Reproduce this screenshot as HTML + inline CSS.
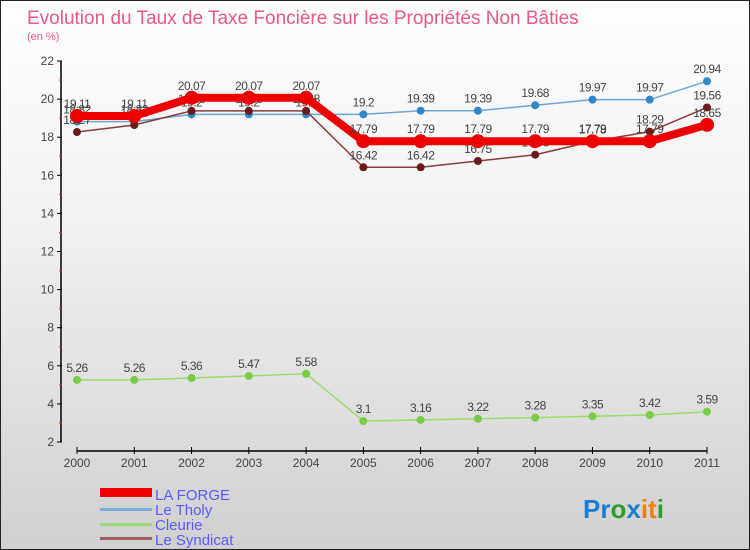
<!DOCTYPE html>
<html><head><meta charset="utf-8"><style>
body{margin:0}
#c{position:relative;width:748px;height:548px;border:1px solid #222;background:linear-gradient(#fefefe,#f2f2f2 40%,#d0d0d0);font-family:"Liberation Sans",sans-serif;overflow:hidden}
</style></head><body>
<div id="c">
<svg id="s" width="748" height="548" style="position:absolute;left:0;top:0">
<text x="26" y="23" font-size="19" fill="#e8588a">Evolution du Taux de Taxe Foncière sur les Propriétés Non Bâties</text>
<text x="26" y="39" font-size="11" fill="#e8588a">(en %)</text>
<g id="axes"></g><g id="series"></g>
<g>
<rect x="99" y="487" width="52" height="9" fill="#e00"/>
<text x="154" y="499" font-size="15" fill="#5a5aff">LA FORGE</text>
<rect x="99" y="507" width="52" height="3" fill="#7aaed8"/>
<text x="154" y="514" font-size="15" fill="#5a5aff">Le Tholy</text>
<rect x="99" y="522" width="52" height="3" fill="#99dd77"/>
<text x="154" y="529" font-size="15" fill="#5a5aff">Cleurie</text>
<rect x="99" y="536" width="52" height="3" fill="#a06060"/>
<text x="154" y="544" font-size="15" fill="#5a5aff">Le Syndicat</text>
</g>
<text x="582" y="517" font-size="26" font-weight="bold"><tspan fill="#1a7fd4">Pr</tspan><tspan fill="#2aa02a">o</tspan><tspan fill="#1a7fd4">x</tspan><tspan fill="#f08010">it</tspan><tspan fill="#2aa02a">i</tspan></text>
</svg>
</div>
<script>
const years=["2000","2001","2002","2003","2004","2005","2006","2007","2008","2009","2010","2011"];
const yTicks=[2,4,6,8,10,12,14,16,18,20,22];
const laForge=[19.11,19.11,20.07,20.07,20.07,17.79,17.79,17.79,17.79,17.79,17.79,18.65];
const leTholy=[18.82,18.82,19.2,19.2,19.2,19.2,19.39,19.39,19.68,19.97,19.97,20.94];
const cleurie=[5.26,5.26,5.36,5.47,5.58,3.1,3.16,3.22,3.28,3.35,3.42,3.59];
const leSyndicat=[18.27,18.64,19.38,19.38,19.38,16.42,16.42,16.75,17.08,17.78,18.29,19.56];
const NS="http://www.w3.org/2000/svg";
const X=i=>76+i*(630/(years.length-1));
const Y=v=>441-(v-2)*(381/20);
function mk(t,a,p){const e=document.createElementNS(NS,t);for(const k in a)e.setAttribute(k,a[k]);p.appendChild(e);return e;}
const ax=document.getElementById('axes');
let l=mk('line',{x1:60,y1:60,x2:60,y2:441,stroke:'#000','stroke-width':1.5},ax);


yTicks.forEach(v=>{
 const t=mk('line',{x1:56,x2:61,y1:Y(v),y2:Y(v),stroke:'#000'},ax);
 
 
 const m=mk('line',{x1:58,x2:61,y1:Y(v+1),y2:Y(v+1),stroke:'#c33'},ax);
 if(v===22)m.remove();
 const tx=mk('text',{x:53,y:Y(v)+4,'font-size':12,fill:'#444','text-anchor':'end'},ax);
 tx.textContent=v;
 
 
});
l=mk('line',{x1:76,y1:450,x2:706,y2:450,stroke:'#000','stroke-width':1.5},ax);


years.forEach((y,i)=>{
 const t=mk('line',{x1:X(i),x2:X(i),y1:446,y2:453,stroke:'#000'},ax);
 
 
 const tx=mk('text',{x:X(i),y:466,'font-size':12,fill:'#444','text-anchor':'middle'},ax);
 tx.textContent=y;
 
 
});
const sg=document.getElementById('series');
function series(name,data,color,w,r,dot){
 const g=mk('g',{},sg);
 
 
 const p=mk('polyline',{points:data.map((v,i)=>X(i)+','+Y(v)).join(' '),fill:'none',stroke:color,'stroke-width':w},g);
 
 
 data.forEach((v,i)=>{
  const c=mk('circle',{cx:X(i),cy:Y(v),r:r,fill:dot},g);
  
  
  const t=mk('text',{x:X(i),y:Y(v)-8,'font-size':12,fill:'#444','text-anchor':'middle','letter-spacing':'-0.5'},g);
  t.textContent=String(v);
  
  
 });
}
series('le-tholy',leTholy,'#6aa8dc',1.5,4,'#2f86c8');
series('cleurie',cleurie,'#99dd66',1.5,4,'#77cc44');
series('le-syndicat',leSyndicat,'#8a3a3a',1.5,4,'#6a1a1a');
series('la-forge',laForge,'#ee0000',8,7,'#ee0000');
</script>
</body></html>
